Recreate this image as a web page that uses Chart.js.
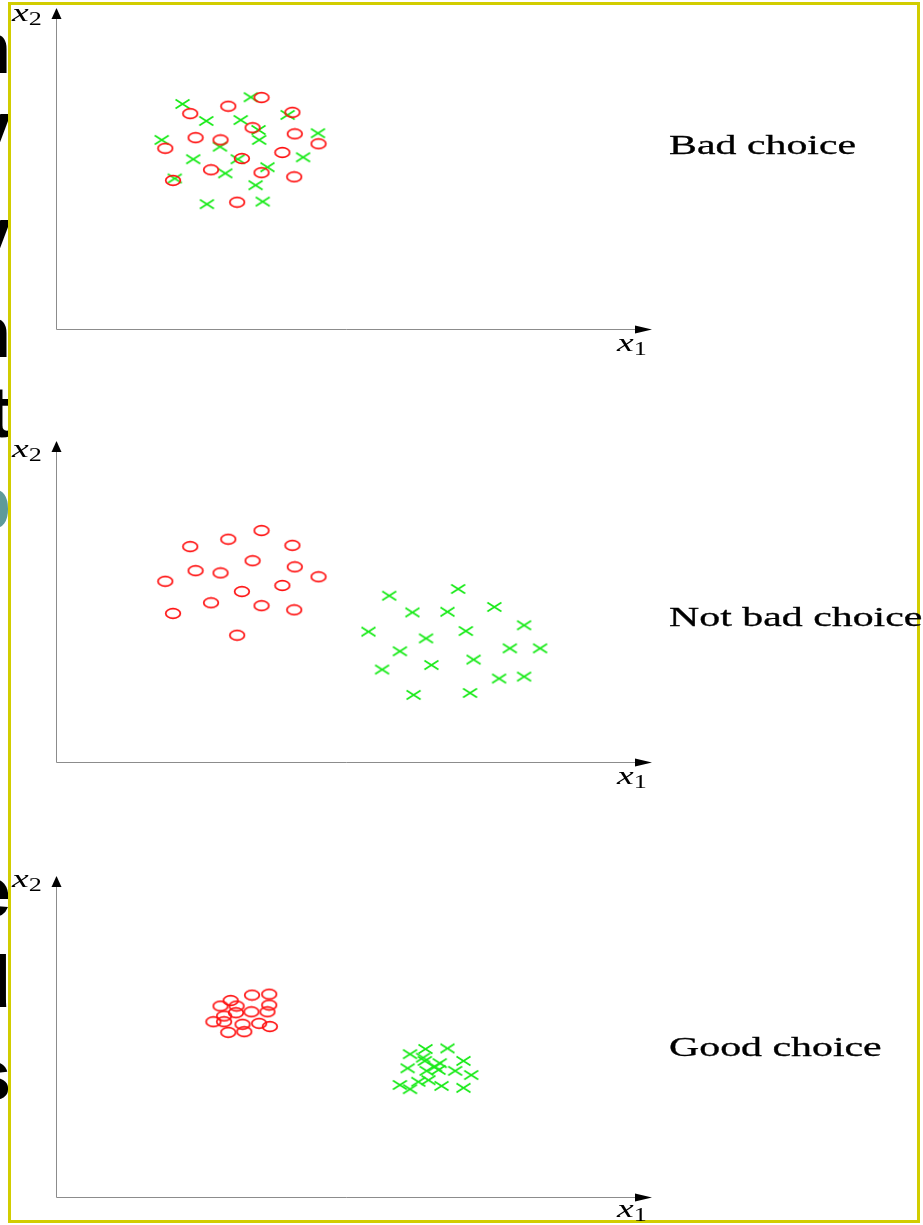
<!DOCTYPE html>
<html>
<head>
<meta charset="utf-8">
<script src="https://cdn.jsdelivr.net/npm/chart.js@4/dist/chart.umd.min.js"></script>
<style>
  html, body { margin: 0; padding: 0; background: #fff; }
  #page { position: relative; width: 923px; height: 1225px; overflow: hidden; background: #fff; }
  #frame { position: absolute; left: 8px; top: 2px; width: 912px; height: 1221px; box-sizing: border-box;
           border: 3px solid #d2cd00; z-index: 3; pointer-events: none; }
  #edge { position: absolute; left: 0; top: 0; width: 8px; height: 1225px; overflow: hidden; z-index: 1; }
  #edge span { position: absolute; right: -3px; font: bold 72px "Liberation Sans", sans-serif; line-height: 1; color: #000; }
  canvas { position: absolute; left: 0; z-index: 2; }
  .lab { position: absolute; z-index: 4; font-family: "Liberation Serif", serif; line-height: 1; white-space: nowrap;
         transform-origin: 0 0; }
  .ax { font-size: 26px; transform: scaleX(1.45); }
  .ax i { font-style: italic; }
  .ax sub { font-size: 18px; vertical-align: -4px; line-height: 1; }
  .choice { font-size: 27px; transform: scaleX(1.55); -webkit-text-stroke: 0.3px #000; }
</style>
</head>
<body>
<div id="page">
  <div id="frame"></div>
  <div id="edge"></div>
  <canvas id="p0" width="923" height="344"></canvas>
  <canvas id="p1" width="923" height="346"></canvas>
  <canvas id="p2" width="923" height="346"></canvas>
</div>
<script>
// feature-selection sketch: three scatter panels, same classes, different separation

const $ = (id) => document.getElementById(id);

// ---------- data (x1, x2 in axis units, 0..10) ----------
const choiceLabels = ['Bad choice', 'Not bad choice', 'Good choice'];

// red circles, spread out (panels 1 and 2 share them)
const looseRingsX = [3.46, 2.90, 2.26, 3.98, 3.31, 2.35, 2.77, 4.02, 4.42, 1.84, 3.81, 3.13, 2.61, 3.46, 4.01, 1.97, 3.05];
const looseRingsY = [7.21, 6.94, 6.71, 6.75, 6.27, 5.96, 5.89, 6.08, 5.77, 5.63, 5.50, 5.31, 4.96, 4.87, 4.74, 4.63, 3.95];

// green crosses mixed into the circles (panel 1)
const mixedCrossX = [3.28, 2.13, 2.53, 3.11, 3.90, 3.41, 3.42, 4.41, 1.78, 2.76, 2.31, 3.06, 4.16, 3.56, 2.85, 2.00, 3.36, 2.54, 3.48];
const mixedCrossY = [7.22, 7.01, 6.48, 6.51, 6.67, 6.20, 5.89, 6.10, 5.89, 5.68, 5.29, 5.29, 5.35, 5.04, 4.85, 4.69, 4.48, 3.89, 3.97];

// green crosses apart from the circles (panel 2)
const apartCrossX = [5.61, 6.77, 6.00, 6.59, 7.38, 5.26, 6.90, 7.88, 6.23, 5.79, 7.64, 8.15, 5.49, 6.32, 7.03, 7.46, 7.88, 6.02, 6.97];
const apartCrossY = [5.18, 5.39, 4.66, 4.68, 4.83, 4.06, 4.08, 4.26, 3.85, 3.45, 3.54, 3.54, 2.88, 3.02, 3.19, 2.60, 2.66, 2.09, 2.15];

// tight clusters (panel 3)
const tightRingsX = [3.30, 3.59, 2.94, 3.59, 3.04, 2.77, 3.29, 3.56, 3.03, 2.83, 2.65, 2.83, 3.14, 3.42, 3.60, 2.90, 3.17];
const tightRingsY = [6.29, 6.32, 6.12, 5.98, 5.95, 5.95, 5.77, 5.77, 5.74, 5.64, 5.46, 5.46, 5.38, 5.41, 5.31, 5.13, 5.15];
const tightCrossX = [6.22, 6.59, 5.96, 6.86, 6.18, 6.21, 6.46, 6.38, 5.92, 6.72, 6.24, 6.99, 6.44, 6.10, 6.27, 5.79, 6.49, 6.86, 5.96];
const tightCrossY = [4.61, 4.63, 4.45, 4.24, 4.34, 4.24, 4.17, 4.06, 4.01, 3.93, 3.93, 3.80, 3.96, 3.59, 3.64, 3.49, 3.46, 3.40, 3.36];

const panels = [
  { ringsX: looseRingsX, ringsY: looseRingsY, crossX: mixedCrossX, crossY: mixedCrossY },
  { ringsX: looseRingsX, ringsY: looseRingsY, crossX: apartCrossX, crossY: apartCrossY },
  { ringsX: tightRingsX, ringsY: tightRingsY, crossX: tightCrossX, crossY: tightCrossY },
];

// ---------- layout (page pixels) ----------
const canvasTop = [0, 431, 866];
const padTop = [8, 10, 10];
const x2Base = [22, 458, 888];   // baseline of the x2 label
const x1Base = [352, 785, 1218]; // baseline of the x1 label
const choiceBase = [155, 627, 1057];

// cut-off letters of the slide behind, left of the frame
const edgeGlyphs = ['m', 'y', 'y', 'n', 't', 'p', 'e', 'd', 's'];
const edgeBase = [73, 152, 258, 357, 437, 528, 917, 1007, 1100];

const RED = '#ff1010';
const GREEN = '#18ea18';

// ---------- markers: the figure is stretched sideways, so ellipses ----------
function ringImg() {
  const c = document.createElement('canvas');
  c.width = 18; c.height = 13;
  const g = c.getContext('2d');
  g.strokeStyle = RED; g.lineWidth = 1.7;
  g.beginPath(); g.ellipse(9, 6.5, 7.3, 4.8, 0, 0, Math.PI * 2); g.stroke();
  return c;
}
function crossImg() {
  const c = document.createElement('canvas');
  c.width = 17; c.height = 12;
  const g = c.getContext('2d');
  g.strokeStyle = GREEN; g.lineWidth = 1.7;
  g.beginPath();
  g.moveTo(1.5, 1.5); g.lineTo(15.5, 10.5);
  g.moveTo(1.5, 10.5); g.lineTo(15.5, 1.5);
  g.stroke();
  return c;
}
const ring = ringImg();
const cross = crossImg();

// grey axis lines with black arrow heads
const arrowAxes = {
  id: 'arrowAxes',
  beforeDatasetsDraw(chart) {
    const { ctx, chartArea: a } = chart;
    const L = Math.round(a.left) + 0.5, B = Math.round(a.bottom) + 0.5;
    ctx.save();
    ctx.strokeStyle = '#8c8c8c'; ctx.lineWidth = 1;
    ctx.beginPath();
    ctx.moveTo(L, a.top + 10); ctx.lineTo(L, B); ctx.lineTo(a.right - 14, B);
    ctx.stroke();
    ctx.fillStyle = '#000';
    ctx.beginPath(); ctx.moveTo(L, a.top); ctx.lineTo(L - 5, a.top + 11); ctx.lineTo(L + 5, a.top + 11); ctx.fill();
    ctx.beginPath(); ctx.moveTo(a.right + 2, B); ctx.lineTo(a.right - 15, B - 4); ctx.lineTo(a.right - 15, B + 4); ctx.fill();
    ctx.restore();
  }
};

const pts = (xs, ys) => xs.map((x, i) => ({ x, y: ys[i] }));

panels.forEach((p, i) => {
  const cv = $('p' + i);
  cv.style.top = canvasTop[i] + 'px';
  new Chart(cv, {
    type: 'scatter',
    data: {
      datasets: [
        { data: pts(p.ringsX, p.ringsY), pointStyle: ring, pointRadius: 7 },
        { data: pts(p.crossX, p.crossY), pointStyle: cross, pointRadius: 7 },
      ]
    },
    options: {
      responsive: false, animation: false, events: [],
      layout: { padding: { left: 56, right: 273, top: padTop[i], bottom: 15 } },
      scales: {
        x: { type: 'linear', min: 0, max: 10, display: false },
        y: { type: 'linear', min: 0, max: 10, display: false },
      },
      plugins: { legend: { display: false }, tooltip: { enabled: false } },
    },
    plugins: [arrowAxes],
  });

  // labels (serif, baseline ~ top + 0.84em at line-height 1)
  const page = $('page');
  const x2 = document.createElement('div');
  x2.className = 'lab ax';
  x2.style.left = '12px'; x2.style.top = (x2Base[i] - 22) + 'px';
  x2.innerHTML = '<i>x</i><sub>2</sub>';
  page.appendChild(x2);

  const x1 = document.createElement('div');
  x1.className = 'lab ax';
  x1.style.left = '617px'; x1.style.top = (x1Base[i] - 22) + 'px';
  x1.innerHTML = '<i>x</i><sub>1</sub>';
  page.appendChild(x1);

  const ch = document.createElement('div');
  ch.className = 'lab choice';
  ch.style.left = '669px'; ch.style.top = (choiceBase[i] - 23) + 'px';
  ch.textContent = choiceLabels[i];
  page.appendChild(ch);
});

$('edge').innerHTML = edgeGlyphs.map((g, i) =>
  `<span style="top:${edgeBase[i] - 61}px;${g === 'p' ? 'color:#5e9a9a;' : ''}">${g}</span>`
).join('');
</script>
</body>
</html>
